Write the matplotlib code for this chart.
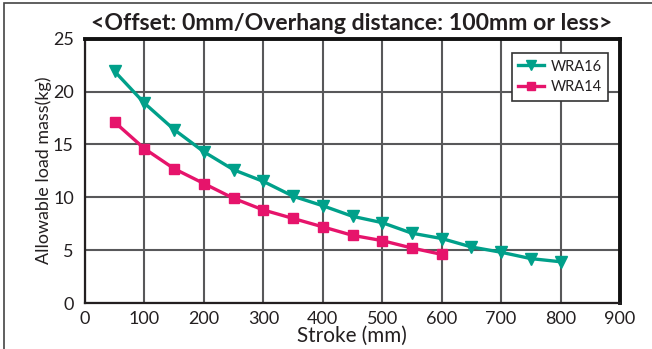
import matplotlib
matplotlib.use("Agg")
import matplotlib.pyplot as plt
from matplotlib.patches import Rectangle

plt.rcParams['font.family'] = ['Lato', 'DejaVu Sans']

stroke16 = [50, 100, 150, 200, 250, 300, 350, 400, 450, 500, 550, 600, 650, 700, 750, 800]
wra16 = [21.9, 18.9, 16.4, 14.3, 12.6, 11.5, 10.1, 9.2, 8.2, 7.6, 6.6, 6.1, 5.3, 4.8, 4.2, 3.9]
stroke14 = [50, 100, 150, 200, 250, 300, 350, 400, 450, 500, 550, 600]
wra14 = [17.1, 14.6, 12.7, 11.3, 9.9, 8.8, 8.0, 7.2, 6.4, 5.9, 5.2, 4.6]
xticks = [0, 100, 200, 300, 400, 500, 600, 700, 800, 900]
yticks = [0, 5, 10, 15, 20, 25]

title = "<Offset: 0mm/Overhang distance: 100mm or less>"
xlabel = "Stroke (mm)"
ylabel = "Allowable load mass(kg)"

teal = '#00A08A'
pink = '#E6146B'
grid_c = '#58585a'
text_c = '#231f20'

W, H = 652, 349
fig = plt.figure(figsize=(W / 100, H / 100), dpi=100)
ax = fig.add_axes([85 / W, 1 - 303 / H, (620 - 85) / W, (303 - 38.7) / H])

# outer frame
fig.patches.append(Rectangle((4 / W, -0.1), 1.2, 1 - 3 / H + 0.1, transform=fig.transFigure,
                             fill=False, edgecolor='#444444', linewidth=1.2, zorder=0))

ax.plot(stroke16, wra16, color=teal, lw=2.4, marker='v', ms=8.5, label='WRA16', zorder=4,
        clip_on=False)
ax.plot(stroke14, wra14, color=pink, lw=2.4, marker='s', ms=7, label='WRA14', zorder=4,
        clip_on=False)

ax.set_xlim(0, 900)
ax.set_ylim(0, 25)
ax.set_xticks(xticks)
ax.set_yticks(yticks)
ax.grid(True, color=grid_c, lw=1.5)
ax.set_axisbelow(True)
ax.tick_params(length=0, labelsize=13, colors=text_c)
ax.tick_params(axis='x', pad=5.5)
ax.tick_params(axis='y', pad=8)

for s in ['left', 'bottom']:
    ax.spines[s].set_linewidth(1.6)
    ax.spines[s].set_color(text_c)
for s in ['top', 'right']:
    ax.spines[s].set_linewidth(2.8)
    ax.spines[s].set_color('#111111')

t_title = fig.text(352 / W, 1 - 30 / H, title, ha='center', va='baseline', fontsize=15.5,
                   fontweight='bold', color=text_c)
t_x = fig.text(352 / W, 1 - 342 / H, xlabel, ha='center', va='baseline', fontsize=13,
               color=text_c)
t_y = fig.text(44 / W, 1 - 170 / H, ylabel, ha='center', va='center', fontsize=13,
               color=text_c, rotation=90)

leg = ax.legend(loc='upper right', bbox_to_anchor=((608 - 85) / (620 - 85), 1 - (53 - 38.7) / (303 - 38.7)),
                fontsize=10.5, frameon=True, fancybox=False, edgecolor='#333333',
                framealpha=1, handlelength=1.8, borderpad=0.45, labelspacing=0.45,
                handletextpad=0.4, borderaxespad=0, markerscale=0.85)
leg.get_frame().set_linewidth(1.2)
for t in leg.get_texts():
    t.set_color(text_c)

# fit text sizes to the reference extents
fig.canvas.draw()
r = fig.canvas.get_renderer()
for t, target, horiz in [(t_title, 520, True), (t_x, 109, True), (t_y, 186, False)]:
    bb = t.get_window_extent(r)
    size = bb.width if horiz else bb.height
    t.set_fontsize(t.get_fontsize() * target / size)

fig.savefig('out.png', dpi=100)
